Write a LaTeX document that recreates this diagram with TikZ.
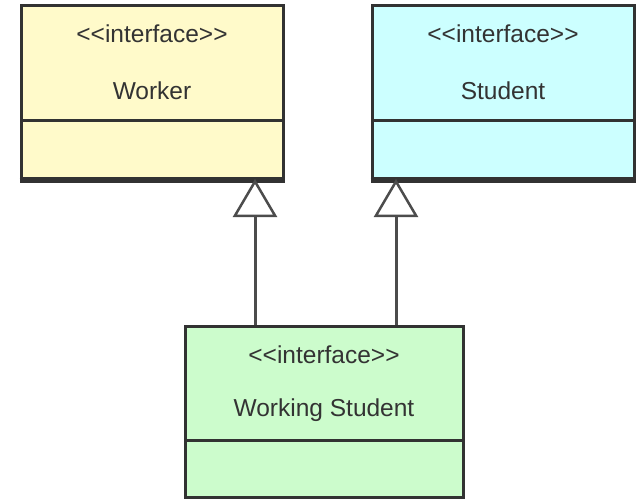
\documentclass[tikz,border=0pt]{standalone}
\usepackage{fontspec}
\setmainfont{Liberation Sans}
\usetikzlibrary{arrows.meta}
\definecolor{workerfill}{RGB}{255,250,202}
\definecolor{studentfill}{RGB}{204,255,255}
\definecolor{wsfill}{RGB}{204,252,204}
\definecolor{edge}{RGB}{50,50,50}
\newcommand{\stereo}[1]{<{}<#1>{}>}
\begin{document}
\begin{tikzpicture}[x=1pt,y=-1pt,
  classbox/.style={draw=edge, line width=3pt, rectangle, inner sep=0pt,
    minimum width=262pt, minimum height=173pt},
  label/.style={font=\fontsize{24.5}{26}\selectfont, text=black!80, inner sep=0pt},
  divider/.style={draw=edge, line width=3pt},
  gen/.style={draw=black!70, line width=3pt,
    -{Triangle[open, length=38pt, width=44pt, line width=2.5pt]}}]
  \useasboundingbox (0,0) rectangle (640,500);

  % Worker interface
  \node[classbox, fill=workerfill] (w) at (152,92.5) {};
  \draw[divider] (21,121) -- (283,121);
  \draw[edge, line width=4.5pt] (w.south west) -- (w.south east);
  \node[label] (wst) at (152,34) {\stereo{interface}};
  \node[label] (wname) at (152,91) {Worker};

  % Student interface
  \node[classbox, fill=studentfill] (s) at (503,92.5) {};
  \draw[divider] (372,121) -- (634,121);
  \draw[edge, line width=4.5pt] (s.south west) -- (s.south east);
  \node[label] (sst) at (503,34) {\stereo{interface}};
  \node[label] (sname) at (503,91) {Student};

  % WorkingStudent interface
  \node[classbox, fill=wsfill, minimum width=278pt, minimum height=171pt] (ws) at (324,412) {};
  \draw[divider] (185,440) -- (463,440);
  \node[label] (wsst) at (324,355) {\stereo{interface}};
  \node[label] (wsname) at (324,410) {Working Student};

  % generalization arrows
  \coordinate (wa) at (255,179);
  \coordinate (sa) at (396,179);
  \draw[gen] (ws.north -| wa) -- (wa);
  \draw[gen] (ws.north -| sa) -- (sa);
\end{tikzpicture}
\end{document}
